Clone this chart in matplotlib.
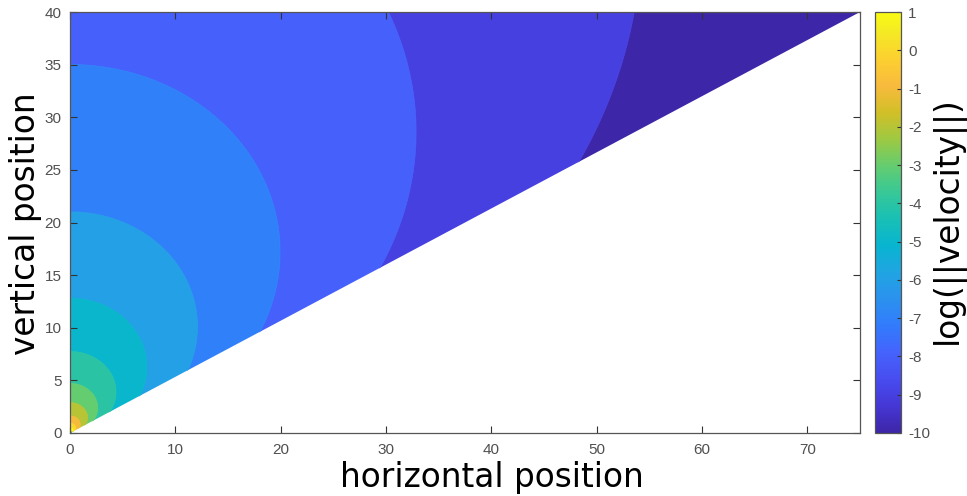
import numpy as np
import matplotlib
matplotlib.use('Agg')
import matplotlib.pyplot as plt
from matplotlib.colors import LinearSegmentedColormap, Normalize
from matplotlib.cm import ScalarMappable
from matplotlib.patches import Polygon

plt.rcParams['font.family'] = ['Liberation Sans', 'DejaVu Sans']
plt.rcParams['axes.unicode_minus'] = False

# contour boundaries (level value, ellipse centre on the y axis, half width, half height)
bound_levels = [1, 0, -1, -2, -3, -4, -5, -6, -7, -8, -9]
centre_y = [0.25, 0.45, 0.8, 1.45, 2.4, 3.9, 6.25, 10.1, 17.2, 28.6, 47.6]
half_w = [0.3, 0.55, 0.98, 1.68, 2.63, 4.37, 7.3, 12.1, 19.95, 32.86, 54.25]
half_h = [0.27, 0.47, 0.82, 1.43, 2.3, 3.83, 6.55, 10.9, 17.8, 29.07, 48.0]

# fill levels used by contourf and the colorbar range
fill_levels = [-10, -9, -8, -7, -6, -5, -4, -3, -2, -1, 0, 1, 2]
cbar_ticks = [-10, -9, -8, -7, -6, -5, -4, -3, -2, -1, 0, 1]

# the wedge shaped domain
wedge_x = [0, 75, 0]
wedge_y = [0, 40, 40]

x_ticks = [0, 10, 20, 30, 40, 50, 60, 70]
y_ticks = [0, 5, 10, 15, 20, 25, 30, 35, 40]

# parula-like colormap (matlab default)
parula_rgb = [
    (0.2422, 0.1504, 0.6603), (0.2706, 0.2147, 0.8364), (0.2813, 0.3006, 0.9414),
    (0.2699, 0.3892, 0.9906), (0.1963, 0.4847, 0.9892), (0.1687, 0.5703, 0.9359),
    (0.1248, 0.6459, 0.8883), (0.0297, 0.7082, 0.8163), (0.0964, 0.7500, 0.7120),
    (0.2161, 0.7843, 0.5923), (0.3909, 0.8029, 0.4354), (0.6174, 0.7876, 0.2612),
    (0.8203, 0.7498, 0.1535), (0.9728, 0.7298, 0.2394), (0.9892, 0.8136, 0.1885),
    (0.9597, 0.9135, 0.1423), (0.9769, 0.9839, 0.0805),
]
parula_pos = [0, 4, 8, 12, 16, 20, 24, 28, 32, 36, 40, 44, 48, 52, 56, 60, 63]
parula = LinearSegmentedColormap.from_list(
    'parula', [(p / 63, c) for p, c in zip(parula_pos, parula_rgb)])
norm = Normalize(vmin=-10, vmax=1)

# build a smooth field whose level sets are the ellipses above
xs = np.linspace(0, 75, 901)
ys = np.linspace(0, 40, 481)
X, Y = np.meshgrid(xs, ys)
L = np.array(bound_levels, dtype=float)
a = np.array(half_w)[:, None, None]
b = np.array(half_h)[:, None, None]
c = np.array(centre_y)[:, None, None]
G = 0.5 * np.log((X / a) ** 2 + ((Y - c) / b) ** 2 + 1e-12)
n = (G >= 0).sum(axis=0)
k = np.clip(n - 1, 0, len(L) - 2)
g0 = np.take_along_axis(G, k[None], 0)[0]
g1 = np.take_along_axis(G, (k + 1)[None], 0)[0]
den = g0 - g1
den = np.where(np.abs(den) < 1e-9, 1e-9, den)
Z = L[k] + (L[k + 1] - L[k]) * g0 / den
Z = np.clip(Z, -9.999, 1.999)

# matlab colours each band with the colour of its lower level
band_colors = [parula(norm(min(v, 1))) for v in fill_levels[:-1]]

fig = plt.figure(figsize=(9.67, 4.96), dpi=100)
ax = fig.add_axes([70 / 967, 63 / 496, 790 / 967, 421 / 496])

cs = ax.contourf(X, Y, Z, levels=fill_levels, colors=band_colors)
cs.set_edgecolor('face')
cs.set_linewidth(0.6)
cs.set_antialiased(True)

tri = Polygon(np.column_stack([wedge_x, wedge_y]), closed=True,
              facecolor='none', edgecolor='none', transform=ax.transData)
ax.add_patch(tri)
cs.set_clip_path(tri)

ax.set_xlim(0, 75)
ax.set_ylim(0, 40)
ax.set_xticks(x_ticks)
ax.set_yticks(y_ticks)
ax.tick_params(direction='in', top=True, right=True, length=5, width=0.8,
               labelsize=11, labelcolor='#505050', color='#333333')
ax.tick_params(axis='x', pad=7)
ax.tick_params(axis='y', pad=6)
for sp in ax.spines.values():
    sp.set_color('#555555')
    sp.set_linewidth(0.9)

label_font = dict(family='DejaVu Sans', size=23.6)
ax.set_xlabel('horizontal position', fontdict=label_font, va='baseline')
ax.xaxis.set_label_coords((492 - 70) / 790, (433 - 487) / 421)
ax.set_ylabel('vertical position', fontdict=label_font, va='baseline')
ax.yaxis.set_label_coords((35 - 70) / 790, (433 - 224) / 421)

cax = fig.add_axes([875 / 967, 63 / 496, 26 / 967, 421 / 496])
sm = ScalarMappable(norm=norm, cmap=parula)
cbar = fig.colorbar(sm, cax=cax, ticks=cbar_ticks)
cbar.ax.tick_params(direction='in', length=3, width=0.8, labelsize=11,
                    labelcolor='#505050', color='#333333', pad=5)
cbar.outline.set_edgecolor('#555555')
cbar.outline.set_linewidth(0.9)
cbar.set_label('log(||velocity||)', fontdict=label_font, va='baseline')
cax.yaxis.set_label_coords((957 - 875) / 26, (433 - 220) / 421)

fig.savefig('out.png', dpi=100)
